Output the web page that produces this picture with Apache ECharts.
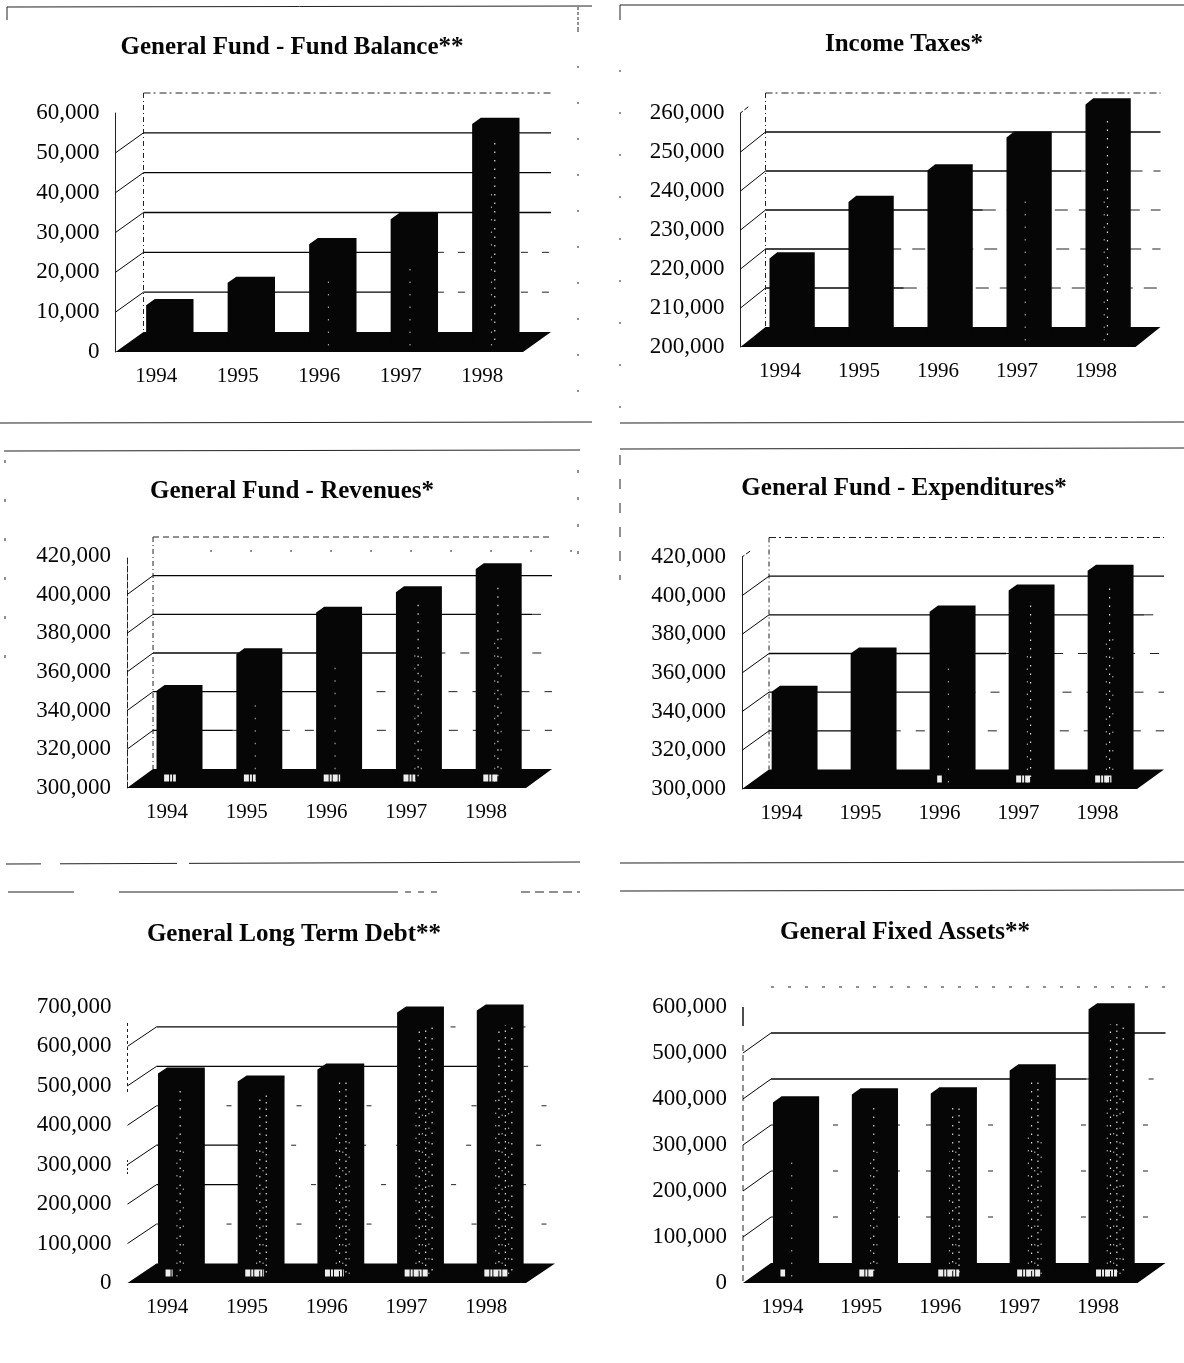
<!DOCTYPE html>
<html>
<head>
<meta charset="utf-8">
<style>html,body{margin:0;padding:0;background:#fff}#chart{width:1184px;height:1363px}</style>
<script src="https://cdn.jsdelivr.net/npm/echarts@6/dist/echarts.min.js"></script>
</head>
<body>
<div id="chart"></div>
<script>
// Six five-year finance summaries, drawn as pseudo-3D columns on a floor.
const categories = ['1994', '1995', '1996', '1997', '1998'];

const fundBalance = [10100, 15700, 25400, 31700, 55600];
const incomeTaxes = [221000, 235500, 243600, 252000, 260500];
const revenues = [347000, 366000, 387500, 398000, 410000];
const expenditures = [347000, 366700, 388400, 399300, 409600];
const longTermDebt = [514800, 494500, 525000, 669500, 674600];
const fixedAssets = [378300, 395700, 397800, 447800, 580500];

const titles = ['General Fund - Fund Balance**', 'Income Taxes*', 'General Fund - Revenues*',
  'General Fund - Expenditures*', 'General Long Term Debt**', 'General Fixed Assets**'];
const seriesValues = [fundBalance, incomeTaxes, revenues, expenditures, longTermDebt, fixedAssets];
const axisMin = [0, 200000, 300000, 300000, 0, 0];
const axisMax = [60000, 260000, 420000, 420000, 700000, 600000];
const axisStep = [10000, 10000, 20000, 20000, 100000, 100000];

// Plot rectangle of the front plane and the depth of the box, per panel.
const layouts = [
  { x: 115.5, y: 113, w: 407.5, h: 239, dx: 28, dy: 20, tx: 292, ty: 48 },
  { x: 740.5, y: 113, w: 395, h: 234, dx: 25, dy: 20, tx: 904, ty: 45 },
  { x: 127, y: 556, w: 399, h: 232, dx: 26, dy: 19, tx: 292, ty: 492 },
  { x: 742, y: 557, w: 395, h: 232, dx: 27, dy: 19.5, tx: 904, ty: 489 },
  { x: 127.5, y: 1007, w: 398.5, h: 276, dx: 29, dy: 19.5, tx: 294, ty: 935 },
  { x: 743, y: 1007, w: 394.5, h: 276, dx: 28, dy: 20, tx: 905, ty: 933 }
];

// Share of each wall line (lowest to highest) printed solid before it breaks up.
const wallSolid = [
  [0.72, 0.72, 1, 1, 1, 0],
  [0.35, 0.25, 0.55, 0.8, 1, 0],
  [0.2, 0.5, 0.65, 0.95, 1, 0],
  [0.25, 0.5, 0.6, 0.95, 1, 0],
  [0, 0.3, 0.25, 0, 0.92, 0.65, 0],
  [0, 0, 0, 0.8, 1, 0]
];
const wallDash = [[7, 14], [13, 11], [9, 15], [9, 15], [5, 30], [5, 26]];
const topDash = [[7, 3, 2, 4], [7, 3, 2, 4], [6, 4], [7, 3, 2, 4], null, [3, 14]];
const topSlant = [null, [3, 2, 5, 40], null, [3, 2, 5, 40], null, null];
const wallGuide = [true, true, true, true, false, false];
// Number of worn columns of toner per bar, and the pale patch under it.
const barWear = [
  [0, 0, 1, 1, 2], [0, 0, 0, 1, 2], [0, 1, 1, 3, 3],
  [0, 0, 1, 2, 3], [3, 4, 5, 6, 6], [1, 3, 4, 5, 6]
];
const floorPatch = [
  [0, 0, 0, 0, 0], [0, 0, 0, 0, 0], [0.5, 0.5, 0.7, 0.5, 0.6],
  [0, 0, 0.2, 0.6, 0.7], [0.3, 0.8, 0.8, 1, 1], [0.2, 0.6, 0.9, 1, 0.9]
];

const INK = '#060606';
const FONT = '"Liberation Serif", "Times New Roman", serif';
const BAR_FRONT = 0.33, BAR_BACK = 0.64, BAR_WIDTH = 0.475;

function tickValues(i) {
  const out = [];
  for (let v = axisMin[i] + axisStep[i]; v <= axisMax[i]; v += axisStep[i]) out.push(v);
  return out;
}

function renderWall(panel) {
  return function (params, api) {
    const c = params.coordSys, g = layouts[panel];
    const idx = params.dataIndex;
    const y = api.coord([0, api.value(1)])[1];
    const left = c.x + g.dx, right = c.x + c.width + g.dx, yb = y - g.dy;
    const solid = wallSolid[panel][idx] || 0;
    const isTop = api.value(1) === axisMax[panel];
    const children = [];
    if (!isTop || topSlant[panel]) {
      children.push({ type: 'line', shape: { x1: c.x, y1: y, x2: left, y2: yb },
        style: { stroke: INK, lineWidth: 1, lineDash: isTop ? topSlant[panel] : null } });
    }
    const breakAt = left + (right - left) * solid;
    if (solid > 0) {
      children.push({ type: 'line', shape: { x1: left, y1: yb, x2: breakAt, y2: yb },
        style: { stroke: INK, lineWidth: 1.3 } });
    }
    if (solid < 1 && (!isTop || topDash[panel])) {
      children.push({ type: 'line', shape: { x1: breakAt, y1: yb, x2: right, y2: yb },
        style: { stroke: '#222', lineWidth: 1, lineDash: isTop ? topDash[panel] : wallDash[panel] } });
    }
    // Dash-dot edge where the back wall meets the side wall.
    if (isTop && wallGuide[panel]) {
      children.push({ type: 'line', shape: { x1: left, y1: yb, x2: left, y2: c.y + c.height - g.dy },
        style: { stroke: '#222', lineWidth: 1, lineDash: [5, 3, 1, 3] } });
    }
    return { type: 'group', children: children };
  };
}

function renderFloor(panel) {
  return function (params) {
    const c = params.coordSys, g = layouts[panel];
    const b = c.y + c.height;
    return {
      type: 'polygon',
      shape: { points: [[c.x, b], [c.x + c.width, b], [c.x + c.width + g.dx, b - g.dy], [c.x + g.dx, b - g.dy]] },
      style: { fill: INK }
    };
  };
}

function renderBar(panel) {
  return function (params, api) {
    const g = layouts[panel], i = api.value(0);
    const top = api.coord([i, api.value(1)]);
    const base = api.coord([i, axisMin[panel]]);
    const band = api.size([1, 0])[0];
    const fw = band * BAR_WIDTH;
    const fl = top[0] - fw / 2 + BAR_FRONT * g.dx;
    const yt = top[1] - BAR_FRONT * g.dy;
    const yb = base[1] - BAR_FRONT * g.dy;
    const bx = (BAR_BACK - BAR_FRONT) * g.dx, by = (BAR_BACK - BAR_FRONT) * g.dy;
    const children = [{
      type: 'polygon',
      shape: { points: [[fl, yb], [fl, yt], [fl + bx, yt - by], [fl + fw + bx, yt - by], [fl + fw + bx, yb - by], [fl + fw, yb]] },
      style: { fill: INK }
    }];
    // Worn toner: sparse pale dots running up the front face.
    const wear = barWear[panel][i];
    const gaps = [11, 7, 17, 5, 13, 9];
    for (let k = 0; k < wear; k++) {
      const x = fl + fw * (0.5 + 0.085 * k);
      const span = (yb - yt - 4) * (k % 2 ? 0.96 : 0.7);
      children.push({
        type: 'line',
        shape: { x1: x, y1: yb, x2: x, y2: yb - span },
        style: { stroke: k % 2 ? '#d8d8d8' : '#9a9a9a', lineWidth: 1.2, lineDash: [1.5, gaps[k]], lineDashOffset: k * 3 }
      });
    }
    const patch = floorPatch[panel][i];
    if (patch > 0) {
      children.push({
        type: 'line',
        shape: { x1: fl + fw * 0.2, y1: base[1] - 10, x2: fl + fw * (0.2 + 0.62 * patch), y2: base[1] - 10 },
        style: { stroke: '#eeeeee', lineWidth: 7, lineDash: [5, 1, 2, 1] }
      });
    }
    return { type: 'group', children: children };
  };
}

// Ruled frames around the panels, worn through in places.
function rule(x1, y1, x2, y2, dash, width) {
  return { type: 'line', silent: true, z: 0, shape: { x1, y1, x2, y2 },
    style: { stroke: '#222', lineWidth: width || 1, lineDash: dash || null } };
}
const frameRules = [
  rule(7, 7, 592, 6), rule(7, 7, 7, 20), rule(578, 7, 578, 30, [3, 2]),
  rule(578, 30, 578, 420, [2, 34]), rule(0, 423, 592, 422),
  rule(620, 5, 1184, 5), rule(620, 5, 620, 20), rule(620, 423, 1184, 422), rule(620, 70, 620, 420, [2, 40]),
  rule(4, 451, 580, 450), rule(578, 470, 578, 560, [3, 24]), rule(210, 551, 580, 551, [2, 38]),
  rule(5, 460, 5, 690, [3, 36]),
  rule(620, 449, 1184, 448), rule(620, 455, 620, 580, [10, 14]),
  rule(6, 864, 580, 862, [35, 19, 117, 12, 391]), rule(620, 863, 1184, 862),
  rule(8, 892, 74, 892), rule(119, 892, 392, 892), rule(392, 892, 438, 892, [6, 7]),
  rule(521, 892, 580, 892, [9, 5]), rule(620, 891, 1184, 890),
  // Remnants of the value axes on the bottom row.
  rule(127.5, 1023, 127.5, 1093, [3, 3]), rule(127.5, 1160, 127.5, 1175, [2, 2]),
  rule(743, 1007, 743, 1026, null, 1.6), rule(743, 1045, 743, 1283, [6, 4])
];

const grid = [], xAxis = [], yAxis = [], title = [], series = [];
layouts.forEach(function (g, i) {
  grid.push({ left: g.x, top: g.y, width: g.w, height: g.h, containLabel: false });
  title.push({
    text: titles[i], left: g.tx, top: g.ty, textAlign: 'center', textVerticalAlign: 'middle', padding: 0,
    textStyle: { fontFamily: FONT, fontSize: 25, fontWeight: 'bold', color: INK }
  });
  xAxis.push({
    gridIndex: i, type: 'category', data: categories, boundaryGap: true,
    axisLine: { show: false }, axisTick: { show: false }, splitLine: { show: false },
    axisLabel: { fontFamily: FONT, fontSize: 21, color: INK, margin: 14, interval: 0 }
  });
  yAxis.push({
    gridIndex: i, type: 'value', min: axisMin[i], max: axisMax[i], interval: axisStep[i],
    axisLine: { show: i < 4, lineStyle: { color: '#222', width: 1, type: i === 2 ? [6, 2] : 'solid' } },
    axisTick: { show: false }, splitLine: { show: false },
    axisLabel: {
      fontFamily: FONT, fontSize: 23, color: INK, margin: 16, padding: [4, 0, 0, 0],
      formatter: function (v) { return v.toLocaleString('en-US'); }
    }
  });
  series.push({
    type: 'custom', xAxisIndex: i, yAxisIndex: i, z: 1, silent: true,
    renderItem: renderWall(i), encode: { x: 0, y: 1 },
    data: tickValues(i).map(function (v) { return [0, v]; })
  });
  series.push({
    type: 'custom', xAxisIndex: i, yAxisIndex: i, z: 2, silent: true,
    renderItem: renderFloor(i), encode: { x: 0, y: 1 },
    data: [[0, axisMin[i]]]
  });
  series.push({
    type: 'custom', name: titles[i], xAxisIndex: i, yAxisIndex: i, z: 3,
    renderItem: renderBar(i), encode: { x: 0, y: 1 },
    data: seriesValues[i].map(function (v, k) { return [k, v]; })
  });
});

const chart = echarts.init(document.getElementById('chart'), null, { renderer: 'canvas' });
chart.setOption({
  animation: false,
  backgroundColor: '#ffffff',
  title: title,
  grid: grid,
  xAxis: xAxis,
  yAxis: yAxis,
  series: series,
  graphic: { elements: frameRules }
});
</script>
</body>
</html>
